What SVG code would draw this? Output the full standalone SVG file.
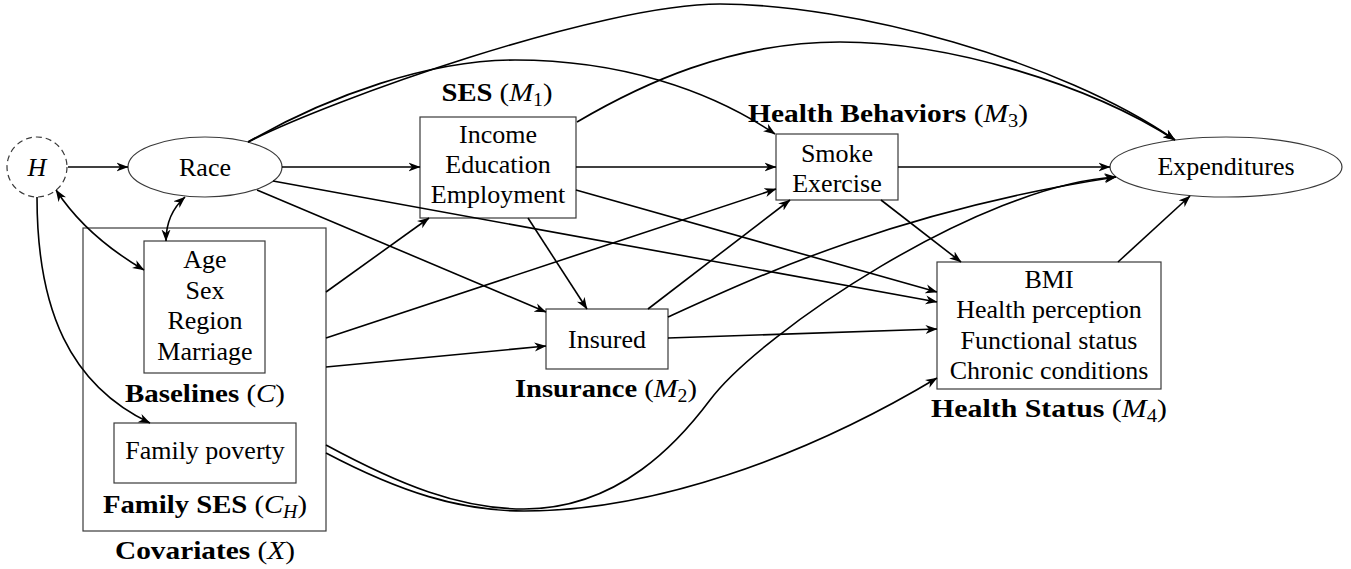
<svg xmlns="http://www.w3.org/2000/svg" width="1351" height="569" viewBox="0 0 1351 569">
<style>
text{font-family:"Liberation Serif","Times New Roman",serif;font-size:26px;fill:#000;text-anchor:middle}
.lbl{font-weight:bold}
.m{font-style:italic;font-weight:normal}
.n{font-weight:normal}
.box{fill:#fff;stroke:#3a3a3a;stroke-width:1.2}
.grp{fill:none;stroke:#3a3a3a;stroke-width:1.2}
.c{fill:none;stroke:#000;stroke-width:1.6;marker-end:url(#arr)}
.d{fill:none;stroke:#000;stroke-width:1.6;marker-end:url(#arr);marker-start:url(#arr)}
</style>
<defs>
<marker id="arr" viewBox="0 0 12 10" refX="11.5" refY="5" markerWidth="12" markerHeight="10" orient="auto-start-reverse" markerUnits="userSpaceOnUse">
<path d="M0,0.5 L12,5 L0,9.5 L3.5,5 Z" fill="#000"/>
</marker>
</defs>
<rect width="1351" height="569" fill="#fff"/>

<g id="covariates">
<rect class="grp" x="83" y="228" width="243" height="303"/>
<text x="205" y="559" class="lbl" textLength="180" lengthAdjust="spacingAndGlyphs">Covariates <tspan class="n">(</tspan><tspan class="m">X</tspan><tspan class="n">)</tspan></text>
</g>

<g id="baselines">
<rect class="box" x="144" y="241" width="121" height="132"/>
<text x="205" y="268">Age</text>
<text x="205" y="298.5">Sex</text>
<text x="205" y="329">Region</text>
<text x="205" y="359.5">Marriage</text>
<text x="205" y="402" class="lbl" textLength="160" lengthAdjust="spacingAndGlyphs">Baselines <tspan class="n">(</tspan><tspan class="m">C</tspan><tspan class="n">)</tspan></text>
</g>

<g id="family-ses">
<rect class="box" x="114" y="423" width="182" height="60"/>
<text x="205" y="459">Family poverty</text>
<text x="205" y="513" class="lbl" textLength="204" lengthAdjust="spacingAndGlyphs">Family SES <tspan class="n">(</tspan><tspan class="m">C</tspan><tspan class="m" font-size="18" dy="5">H</tspan><tspan class="n" dy="-5">)</tspan></text>
</g>

<g id="h">
<circle cx="37" cy="167" r="30" fill="#fff" stroke="#3a3a3a" stroke-width="1.2" stroke-dasharray="6,4"/>
<text x="37" y="176" class="m">H</text>
</g>

<g id="race">
<ellipse cx="205" cy="167" rx="77" ry="30" class="box"/>
<text x="205" y="176">Race</text>
</g>

<g id="ses">
<rect class="box" x="420" y="117" width="156" height="101"/>
<text x="498" y="143">Income</text>
<text x="498" y="173">Education</text>
<text x="498" y="203">Employment</text>
<text x="497" y="101" class="lbl" textLength="111" lengthAdjust="spacingAndGlyphs">SES <tspan class="n">(</tspan><tspan class="m">M</tspan><tspan class="n" font-size="18" dy="5">1</tspan><tspan class="n" dy="-5">)</tspan></text>
</g>

<g id="insurance">
<rect class="box" x="546" y="309" width="122" height="60"/>
<text x="607" y="348">Insured</text>
<text x="606" y="397" class="lbl" textLength="182" lengthAdjust="spacingAndGlyphs">Insurance <tspan class="n">(</tspan><tspan class="m">M</tspan><tspan class="n" font-size="18" dy="5">2</tspan><tspan class="n" dy="-5">)</tspan></text>
</g>

<g id="health-behaviors">
<rect class="box" x="776" y="134" width="122" height="66"/>
<text x="837" y="162">Smoke</text>
<text x="837" y="192">Exercise</text>
<text x="888" y="122" class="lbl" textLength="280" lengthAdjust="spacingAndGlyphs">Health Behaviors <tspan class="n">(</tspan><tspan class="m">M</tspan><tspan class="n" font-size="18" dy="5">3</tspan><tspan class="n" dy="-5">)</tspan></text>
</g>

<g id="health-status">
<rect class="box" x="937" y="262" width="224" height="127"/>
<text x="1049" y="288">BMI</text>
<text x="1049" y="318">Health perception</text>
<text x="1049" y="349">Functional status</text>
<text x="1049" y="379">Chronic conditions</text>
<text x="1049" y="417" class="lbl" textLength="236" lengthAdjust="spacingAndGlyphs">Health Status <tspan class="n">(</tspan><tspan class="m">M</tspan><tspan class="n" font-size="18" dy="5">4</tspan><tspan class="n" dy="-5">)</tspan></text>
</g>

<g id="expenditures">
<ellipse cx="1226" cy="167" rx="116" ry="30" class="box"/>
<text x="1226" y="175">Expenditures</text>
</g>

<g id="connectors">
<path class="c" d="M68,167 L128,167"/>
<path class="c" d="M282,167 L420,167"/>
<path class="c" d="M576,167 L776,167"/>
<path class="c" d="M898,167 L1110,167"/>
<path class="c" d="M257,190 L546,312"/>
<path class="c" d="M273,181 L937,302"/>
<path class="c" d="M528,218 L587,309"/>
<path class="c" d="M576,190 L937,292"/>
<path class="c" d="M326,292 L429,218"/>
<path class="c" d="M326,338 L776,189"/>
<path class="c" d="M326,367 L546,346"/>
<path class="c" d="M648,309 L790,200"/>
<path class="c" d="M668,338 L937,329"/>
<path class="c" d="M668,317 C760,275 900,210 1116,177"/>
<path class="c" d="M881,200 L961,262"/>
<path class="c" d="M1118,262 L1190,196"/>
<path class="c" d="M248,142 C330,100 600,4 720,4 C850,4 1060,60 1175,140"/>
<path class="c" d="M248,142 C330,95 430,60 515,60 C620,60 710,90 775,134"/>
<path class="c" d="M577,122 C640,85 730,42 840,42 C950,42 1090,85 1175,140"/>
<path class="c" d="M326,445 C400,485 460,509 524,509 C620,509 680,440 710,400 C760,333 980,185 1116,177"/>
<path class="c" d="M326,453 C400,492 460,511 524,511 C650,511 800,460 937,378"/>
<path class="c" d="M37,197 C37,310 70,385 150,423"/>
<path class="d" d="M56,190 Q86,236 144,270"/>
<path class="d" d="M185,197 Q166,214 166,241"/>
</g>
</svg>
